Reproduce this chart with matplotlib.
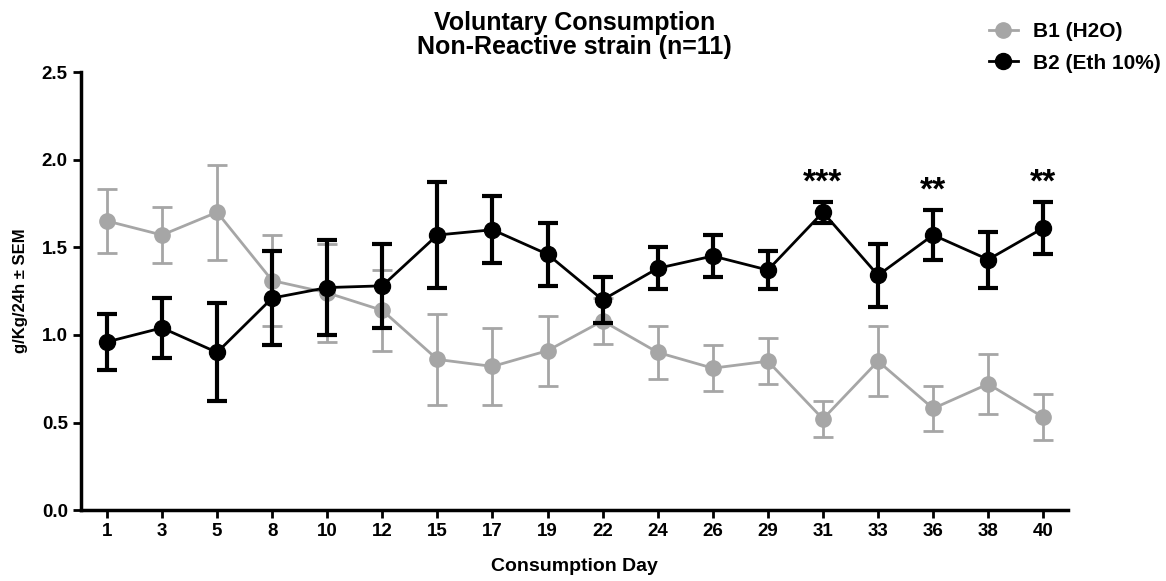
import numpy as np
import matplotlib
matplotlib.use('Agg')
from matplotlib import pyplot as plt
from matplotlib.lines import Line2D

plt.rcParams['font.family'] = ['Liberation Sans', 'DejaVu Sans']
plt.rcParams['font.weight'] = 'bold'

days = ['1', '3', '5', '8', '10', '12', '15', '17', '19', '22', '24', '26', '29', '31', '33', '36', '38', '40']

b1_mean = [1.65, 1.57, 1.70, 1.31, 1.24, 1.14, 0.86, 0.82, 0.91, 1.08, 0.90, 0.81, 0.85, 0.52, 0.85, 0.58, 0.72, 0.53]
b1_sem = [0.18, 0.16, 0.27, 0.26, 0.28, 0.23, 0.26, 0.22, 0.20, 0.13, 0.15, 0.13, 0.13, 0.10, 0.20, 0.13, 0.17, 0.13]

b2_mean = [0.96, 1.04, 0.90, 1.21, 1.27, 1.28, 1.57, 1.60, 1.46, 1.20, 1.38, 1.45, 1.37, 1.70, 1.34, 1.57, 1.43, 1.61]
b2_sem = [0.16, 0.17, 0.28, 0.27, 0.27, 0.24, 0.30, 0.19, 0.18, 0.13, 0.12, 0.12, 0.11, 0.06, 0.18, 0.14, 0.16, 0.15]

# significance marks (index into days, label)
sig_idx = [13, 15, 17]
sig_lab = ['***', '**', '**']

x = np.arange(len(days))

fig = plt.figure(figsize=(11.66, 5.81), dpi=100)
ax = fig.add_axes([0.0695, 0.122, 0.8465, 0.754])

grey = '#a6a6a6'
ax.errorbar(x, b1_mean, yerr=b1_sem, color=grey, ecolor=grey, marker='o', markersize=11,
            linewidth=2, elinewidth=2, capsize=7, capthick=2, zorder=2)
ax.errorbar(x, b2_mean, yerr=b2_sem, color='black', ecolor='black', marker='o', markersize=11.5,
            linewidth=2, elinewidth=3, capsize=7, capthick=3, zorder=3)

for i, lab in zip(sig_idx, sig_lab):
    ax.text(x[i], b2_mean[i] + b2_sem[i] + 0.02, lab, ha='center', va='bottom',
            fontsize=24, fontweight='bold')

ax.set_xlim(-0.47, 17.45)
ax.set_ylim(0, 2.5)
ax.set_xticks(x)
ax.set_xticklabels(days)
ax.set_yticks([0, 0.5, 1.0, 1.5, 2.0, 2.5])
ax.set_yticklabels(['0.0', '0.5', '1.0', '1.5', '2.0', '2.5'])
ax.tick_params(labelsize=13.5, width=2, length=6, direction='out')
for s in ['top', 'right']:
    ax.spines[s].set_visible(False)
for s in ['left', 'bottom']:
    ax.spines[s].set_linewidth(2.5)

ax.set_xlabel('Consumption Day', fontsize=14, fontweight='bold', labelpad=13)
ax.set_ylabel('g/Kg/24h ± SEM', fontsize=12, fontweight='bold', labelpad=10)
ax.set_title('Voluntary Consumption\nNon-Reactive strain (n=11)', fontsize=18,
             fontweight='bold', pad=13, linespacing=1.0)

handles = [Line2D([], [], color=grey, marker='o', markersize=11, linewidth=2),
           Line2D([], [], color='black', marker='o', markersize=11.5, linewidth=2)]
fig.legend(handles, ['B1 (H2O)', 'B2 (Eth 10%)'], loc='upper left',
           bbox_to_anchor=(0.848, 0.962), frameon=False, fontsize=15,
           handlelength=1.4, handletextpad=0.7, labelspacing=0.6,
           borderpad=0, borderaxespad=0)

fig.savefig('out.png', dpi=100)
